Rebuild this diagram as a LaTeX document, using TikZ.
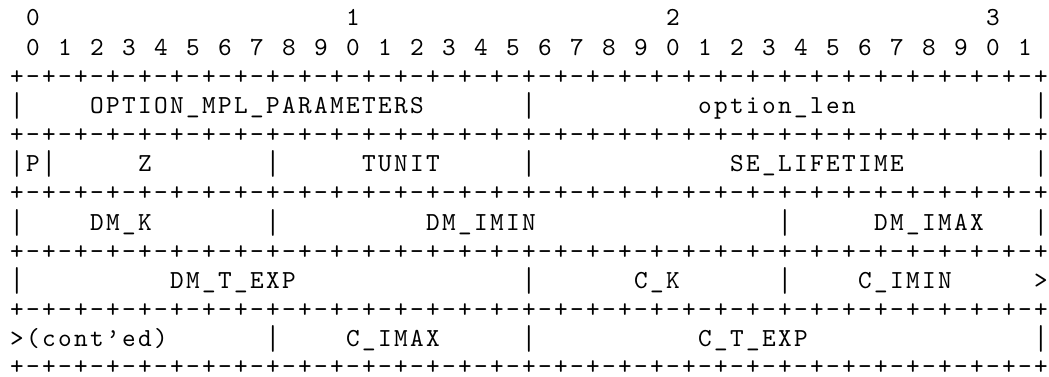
\documentclass[tikz,border=0pt]{standalone}
\usepackage{fontspec}
\newfontfamily\courierlike{lmmono10-regular.otf}[LetterSpace=9.04]
\newcommand\mplborder{+-+-+-+-+-+-+-+-+-+-+-+-+-+-+-+-+-+-+-+-+-+-+-+-+-+-+-+-+-+-+-+-+}
\newcommand\mplbar{\makebox[16pt]{\raisebox{-3.2pt}{\scalebox{1}[1.33]{|}}}}
\begin{document}
\begin{tikzpicture}[x=1pt,y=1pt,
  asc/.style={anchor=base west, inner sep=0pt, outer sep=0pt, text=black, xshift=1.2pt,
    font=\courierlike\fontsize{26}{29}\selectfont},
  vbar/.style={anchor=base west, inner sep=0pt, outer sep=0pt, text=black,
    font=\courierlike\fontsize{26}{29}\selectfont}]
\fill[white] (0,0) rectangle (1049,377);
\useasboundingbox (0,0) rectangle (1049,377);
% row 0
\node[asc] (h0a) at (9+16*1, 351-29.15*0) {0};
\node[asc] (h0b) at (9+16*21, 351-29.15*0) {1};
\node[asc] (h0c) at (9+16*41, 351-29.15*0) {2};
\node[asc] (h0d) at (9+16*61, 351-29.15*0) {3};
% row 1
\foreach \i in {0,...,31}{
  \pgfmathtruncatemacro\bitdigit{mod(\i,10)}
  \node[asc] (h1-\i) at (9+16+32*\i, 351-29.15*1) {\bitdigit};
}
% borders
\node[asc] (b2) at (9, 351-29.15*2) {\mplborder};
\node[asc] (b4) at (9, 351-29.15*4) {\mplborder};
\node[asc] (b6) at (9, 351-29.15*6) {\mplborder};
\node[asc] (b8) at (9, 351-29.15*8) {\mplborder};
\node[asc] (b10) at (9, 351-29.15*10) {\mplborder};
\node[asc] (b12) at (9, 351-29.15*12+0.8) {\mplborder};
% row 3
\node[vbar] (r3a) at (9+16*0, 351-29.15*3) {\mplbar};
\node[asc] (r3b) at (9+16*5, 351-29.15*3) {OPTION\_MPL\_PARAMETERS};
\node[vbar] (r3c) at (9+16*32, 351-29.15*3) {\mplbar};
\node[asc] (r3d) at (9+16*43, 351-29.15*3) {option\_len};
\node[vbar] (r3e) at (9+16*64, 351-29.15*3) {\mplbar};
% row 5
\node[vbar] (r5a) at (9+16*0, 351-29.15*5) {\mplbar};
\node[asc] (r5p) at (9+16*1, 351-29.15*5) {P};
\node[vbar] (r5q) at (9+16*2, 351-29.15*5) {\mplbar};
\node[asc] (r5b) at (9+16*8, 351-29.15*5) {Z};
\node[vbar] (r5c) at (9+16*16, 351-29.15*5) {\mplbar};
\node[asc] (r5d) at (9+16*22, 351-29.15*5) {TUNIT};
\node[vbar] (r5e) at (9+16*32, 351-29.15*5) {\mplbar};
\node[asc] (r5f) at (9+16*45, 351-29.15*5) {SE\_LIFETIME};
\node[vbar] (r5g) at (9+16*64, 351-29.15*5) {\mplbar};
% row 7
\node[vbar] (r7a) at (9+16*0, 351-29.15*7) {\mplbar};
\node[asc] (r7b) at (9+16*5, 351-29.15*7) {DM\_K};
\node[vbar] (r7c) at (9+16*16, 351-29.15*7) {\mplbar};
\node[asc] (r7d) at (9+16*26, 351-29.15*7) {DM\_IMIN};
\node[vbar] (r7e) at (9+16*48, 351-29.15*7) {\mplbar};
\node[asc] (r7f) at (9+16*54, 351-29.15*7) {DM\_IMAX};
\node[vbar] (r7g) at (9+16*64, 351-29.15*7) {\mplbar};
% row 9
\node[vbar] (r9a) at (9+16*0, 351-29.15*9) {\mplbar};
\node[asc] (r9b) at (9+16*10, 351-29.15*9) {DM\_T\_EXP};
\node[vbar] (r9c) at (9+16*32, 351-29.15*9) {\mplbar};
\node[asc] (r9d) at (9+16*39, 351-29.15*9) {C\_K};
\node[vbar] (r9e) at (9+16*48, 351-29.15*9) {\mplbar};
\node[asc] (r9f) at (9+16*53, 351-29.15*9) {C\_IMIN};
\node[asc] (r9g) at (9+16*64, 351-29.15*9) {>};
% row 11
\node[asc] (r11a) at (9+16*0, 351-29.15*11) {>(cont’ed)};
\node[vbar] (r11b) at (9+16*16, 351-29.15*11) {\mplbar};
\node[asc] (r11c) at (9+16*21, 351-29.15*11) {C\_IMAX};
\node[vbar] (r11d) at (9+16*32, 351-29.15*11) {\mplbar};
\node[asc] (r11e) at (9+16*43, 351-29.15*11) {C\_T\_EXP};
\node[vbar] (r11f) at (9+16*64, 351-29.15*11) {\mplbar};
\end{tikzpicture}
\end{document}
